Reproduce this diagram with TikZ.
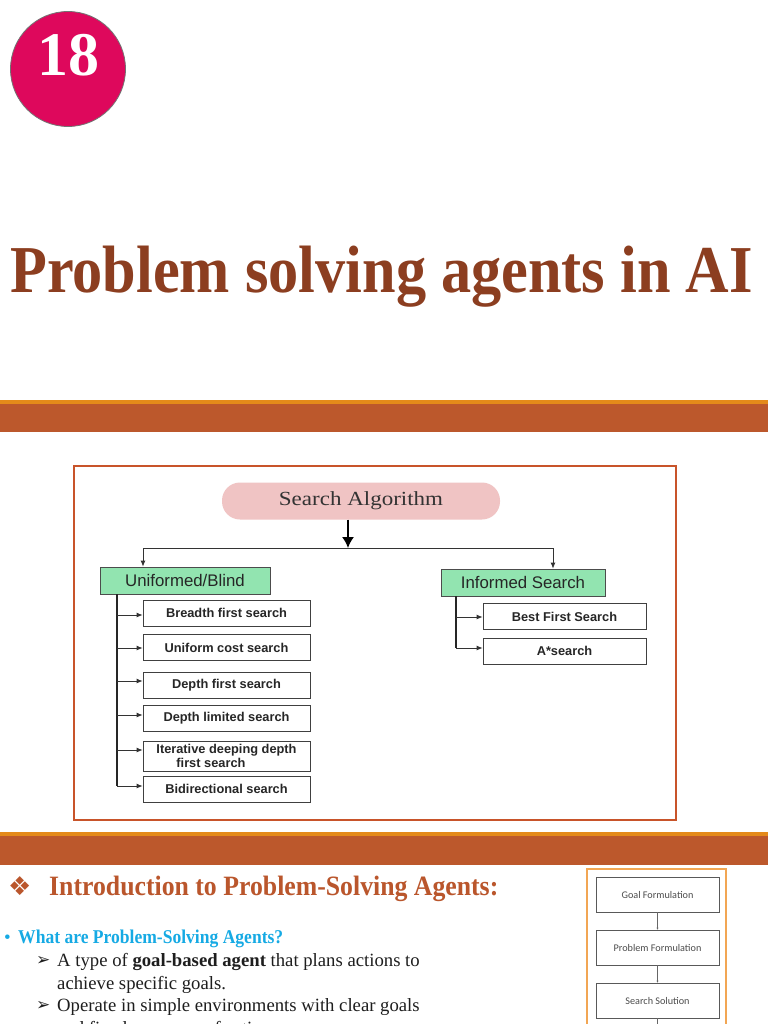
\documentclass[tikz,border=0pt]{standalone}
\usepackage{fontspec}
\setmainfont{Liberation Serif}
\setsansfont{Liberation Sans}
\newfontfamily\symfont{DejaVu Sans}
\newfontfamily\calfont{Carlito}
\usetikzlibrary{arrows.meta}
\definecolor{crim}{RGB}{222,8,92}
\definecolor{titlebrown}{RGB}{140,62,32}
\definecolor{headbrown}{RGB}{186,86,44}
\definecolor{bandorange}{RGB}{228,138,26}
\definecolor{bandbrown}{RGB}{188,88,44}
\definecolor{framec}{RGB}{200,84,42}
\definecolor{pinkc}{RGB}{240,196,196}
\definecolor{greenc}{RGB}{146,228,176}
\definecolor{cyanc}{RGB}{22,170,228}
\definecolor{bodyc}{RGB}{30,30,30}
\definecolor{lorange}{RGB}{242,166,84}
\tikzset{
  leaf/.style={draw=black!75, line width=0.8pt, fill=white, minimum width=167pt, minimum height=26pt, inner sep=1pt, font=\sffamily\bfseries\fontsize{12.8}{14}\selectfont, text=black!85},
  cat/.style={draw=black!70, line width=0.8pt, fill=greenc, minimum height=27pt, inner sep=1pt, font=\sffamily\fontsize{16.8}{18}\selectfont, text=black!85},
  link/.style={line width=0.8pt, black!80},
  smallarr/.style={link, -{Latex[length=6pt,width=5pt]}},
  bigarr/.style={line width=1.6pt, black, -{Latex[length=11pt,width=12pt]}},
  trunk/.style={line width=1.8pt, black!85},
  flowbox/.style={draw=black!65, line width=0.6pt, fill=white, minimum width=123pt, minimum height=35pt, font=\calfont\fontsize{10.2}{12}\selectfont, text=black!70},
  bodytext/.style={anchor=base west, inner sep=0pt, text=bodyc, font=\fontsize{18.7}{22}\selectfont},
  arrbullet/.style={anchor=base west, inner sep=0pt, text=bodyc, font=\symfont\fontsize{17}{19}\selectfont}
}
\begin{document}
\begin{tikzpicture}[x=1pt,y=-1pt]
\useasboundingbox (0,0) rectangle (768,1024);
\fill[white] (0,0) rectangle (768,1024);

% badge
\node[circle, fill=crim, draw=black!55, line width=0.8pt, minimum size=115pt, inner sep=0pt] (badge) at (68,69) {};
\node[anchor=base, inner sep=0pt, text=white, font=\bfseries\fontsize{62}{62}\selectfont] (num) at (68,76) {18};

% title
\node[anchor=base west, inner sep=0pt, text=titlebrown, font=\bfseries\fontsize{67}{70}\selectfont] (title) at (10,292) {\scalebox{0.90}[1]{Problem solving agents in AI}};

% band 1
\fill[bandorange] (0,400) rectangle (768,404);
\fill[bandbrown] (0,404) rectangle (768,432);

% frame
\draw[framec, line width=2pt] (74,466) rectangle (676,820);

% diagram
\node[fill=pinkc, rounded corners=18pt, minimum width=278pt, minimum height=37pt, inner sep=0pt, font=\fontsize{20}{22}\selectfont, text=black!80] (sa) at (361,501) {\scalebox{1.15}[1]{Search Algorithm}};
\coordinate (j) at (348,548);
\coordinate (jl) at (143,548);
\coordinate (jr) at (553,548);
\node[cat, minimum width=170pt] (ub) at (185,580.5) {Uniformed/Blind};
\node[cat, minimum width=164pt] (is) at (523,582.5) {Informed Search};
\draw[bigarr] (sa.south -| j) -- (j);
\draw[link] (jl) -- (jr);
\draw[smallarr] (jl) -- (jl |- ub.north);
\draw[smallarr] (jr) -- (jr |- is.north);

\node[leaf] (b1) at (226.5,613) {Breadth first search};
\node[leaf] (b2) at (226.5,647.5) {Uniform cost search};
\node[leaf] (b3) at (226.5,685) {Depth first search};
\node[leaf] (b4) at (226.5,718.5) {Depth limited search};
\node[leaf, minimum height=30pt, align=left, font=\sffamily\bfseries\fontsize{12.8}{14.5}\selectfont] (b5) at (226.5,756) {Iterative deeping depth\\\hspace*{20pt}first search};
\node[leaf] (b6) at (226.5,789) {Bidirectional search};
\coordinate (tl) at (117,786);
\draw[trunk] (ub.south -| tl) -- (tl);
\foreach \b/\yy in {b1/615, b2/648, b3/681, b4/715, b5/750, b6/786}{
  \draw[smallarr] (tl |- 0,\yy) -- (\b.west |- 0,\yy);
}

\node[leaf, minimum width=163pt] (r1) at (564.5,616.5) {Best First Search};
\node[leaf, minimum width=163pt] (r2) at (564.5,651) {A*search};
\coordinate (tr) at (456,648);
\draw[trunk] (is.south -| tr) -- (tr);
\draw[smallarr] (tr |- 0,617) -- (r1.west |- 0,617);
\draw[smallarr] (tr) -- (r2.west |- tr);

% band 2
\fill[bandorange] (0,832) rectangle (768,836);
\fill[bandbrown] (0,836) rectangle (768,865);

% heading
\node[anchor=base west, inner sep=0pt, text=headbrown, font=\symfont\fontsize{26}{28}\selectfont] (dia) at (8,895) {❖};
\node[anchor=base west, inner sep=0pt, text=headbrown, font=\bfseries\fontsize{28}{30}\selectfont] (head) at (49,895) {\scalebox{0.92}[1]{Introduction to Problem-Solving Agents:}};

\node[anchor=base west, inner sep=0pt, text=cyanc, font=\fontsize{19}{21}\selectfont] (dot) at (4,943) {•};
\node[anchor=base west, inner sep=0pt, text=cyanc, font=\bfseries\fontsize{19.5}{21}\selectfont] (q) at (18,943) {\scalebox{0.90}[1]{What are Problem-Solving Agents?}};

\node[arrbullet] (a1) at (36,965) {➢};
\node[bodytext] (t1) at (57,966) {A type of \textbf{goal-based agent} that plans actions to};
\node[bodytext] (t2) at (57,989) {achieve specific goals.};
\node[arrbullet] (a2) at (36,1010) {➢};
\node[bodytext] (t3) at (57,1011) {Operate in simple environments with clear goals};
\node[bodytext] (t4) at (57,1034) {and fixed sequence of actions.};

% right flowchart
\draw[lorange, line width=1.2pt] (587,1030) -- (587,869) -- (726,869) -- (726,1030);
\node[flowbox] (g1) at (657.5,894.5) {Goal Formulation};
\node[flowbox] (g2) at (657.5,947.5) {Problem Formulation};
\node[flowbox] (g3) at (657.5,1000.5) {Search Solution};
\coordinate (g4) at (657.5,1030);
\draw[black!60, line width=0.5pt, -{Latex[length=2pt,width=2pt]}] (g1) -- (g2);
\draw[black!60, line width=0.5pt, -{Latex[length=2pt,width=2pt]}] (g2) -- (g3);
\draw[black!60, line width=0.5pt] (g3) -- (g4);
\end{tikzpicture}
\end{document}
